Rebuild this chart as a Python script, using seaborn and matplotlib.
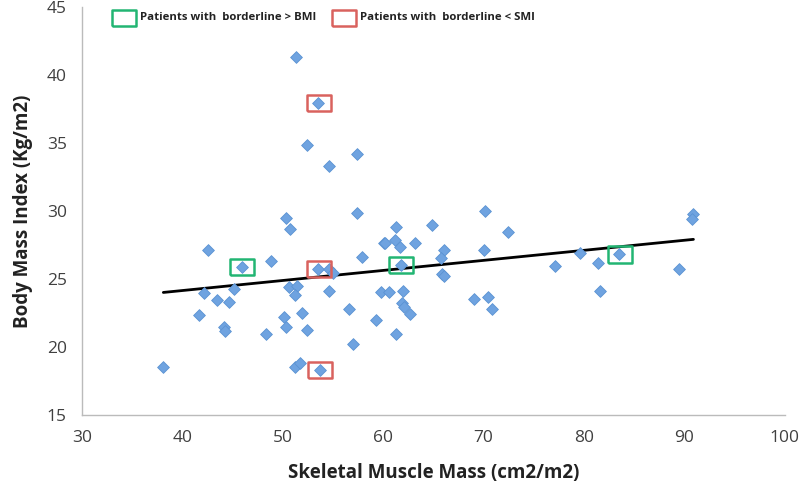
import numpy as np
import pandas as pd
import seaborn as sns
import matplotlib.pyplot as plt

# valores
smm = [51.3, 53.5, 52.4, 57.4, 54.6, 57.4, 50.3, 50.7, 42.5, 60.1,
       48.8, 45.9, 57.9, 53.5, 54.6, 55.0, 45.1, 42.2, 43.4, 44.6,
       50.6, 51.4, 51.2, 54.6, 59.8, 60.6, 41.7, 50.1, 51.9, 56.6,
       59.3, 50.3, 44.1, 44.2, 48.3, 52.4, 57.0, 61.3, 38.1, 51.2,
       51.7, 53.7, 70.1, 64.9, 61.3, 72.4, 60.2, 61.2, 61.7, 63.2,
       66.1, 70.0, 65.8, 61.8, 65.9, 66.1, 77.1, 79.6, 81.4, 83.5,
       89.5, 90.9, 90.8, 81.6, 62.0, 61.9, 62.1, 62.7, 69.0, 70.4,
       70.8]
bmi = [41.35, 37.95, 34.85, 34.2, 33.3, 29.85, 29.45, 28.7, 27.1, 27.65,
       26.35, 25.9, 26.6, 25.75, 25.75, 25.45, 24.3, 23.95, 23.45, 23.3,
       24.4, 24.5, 23.8, 24.1, 24.05, 24.05, 22.35, 22.2, 22.5, 22.8,
       22.0, 21.5, 21.5, 21.2, 20.95, 21.25, 20.25, 20.95, 18.55, 18.55,
       18.85, 18.3, 30.0, 28.95, 28.85, 28.45, 27.65, 27.9, 27.35, 27.65,
       27.1, 27.1, 26.55, 26.05, 25.4, 25.25, 25.95, 26.9, 26.15, 26.85,
       25.75, 29.75, 29.4, 24.1, 24.1, 23.25, 22.95, 22.4, 23.55, 23.7,
       22.8]

# pacientes resaltados
bmi_hi_x = [45.9, 61.8, 83.6]
bmi_hi_y = [25.9, 26.05, 26.8]
smi_lo_x = [53.6, 53.6, 53.7]
smi_lo_y = [37.95, 25.75, 18.3]

df = pd.DataFrame({'smm': smm, 'bmi': bmi})

sns.set_style('white')
plt.rcParams['font.family'] = ['Open Sans', 'DejaVu Sans']

fig = plt.figure(figsize=(8, 4.91), dpi=100)
ax = fig.add_axes([0.1025, 0.1548, 0.8785, 0.831])

sns.scatterplot(data=df, x='smm', y='bmi', marker='D', s=36, color='#6fa3e0',
                edgecolor='#5b93d3', linewidth=0.6, ax=ax, zorder=3)
sns.regplot(data=df, x='smm', y='bmi', scatter=False, ci=None, truncate=True,
            line_kws={'color': 'black', 'lw': 2}, ax=ax)

rect = [(-1.5, -1), (1.5, -1), (1.5, 1), (-1.5, 1), (-1.5, -1)]
ax.scatter(bmi_hi_x, bmi_hi_y, marker=rect, s=300, facecolors='none',
           edgecolors='#22b573', linewidths=1.8, zorder=4)
ax.scatter(smi_lo_x, smi_lo_y, marker=rect, s=300, facecolors='none',
           edgecolors='#d9625e', linewidths=1.8, zorder=4)

ax.set_xlim(30, 100)
ax.set_ylim(15, 45)
ax.set_xticks(range(30, 101, 10))
ax.set_yticks(range(15, 46, 5))
ax.tick_params(axis='both', labelsize=12.5, labelcolor='#404040', length=4,
               width=1, direction='out', color='#bbbbbb', pad=7)
sns.despine(ax=ax)
for sp in ['left', 'bottom']:
    ax.spines[sp].set_color('#bbbbbb')
    ax.spines[sp].set_linewidth(1)

ax.set_xlabel('Skeletal Muscle Mass (cm2/m2)', fontsize=13.5, fontweight='bold',
              color='#222222', labelpad=12)
ax.set_ylabel('Body Mass Index (Kg/m2)', fontsize=13.5, fontweight='bold',
              color='#222222', labelpad=10)

# leyenda manual arriba
ax.scatter([34.2], [44.2], marker=rect, s=300, facecolors='none',
           edgecolors='#22b573', linewidths=1.8, clip_on=False)
ax.text(35.8, 44.2, 'Patients with  borderline > BMI', fontsize=8.2,
        fontweight='bold', va='center', color='#222222')
ax.scatter([56.1], [44.2], marker=rect, s=300, facecolors='none',
           edgecolors='#d9625e', linewidths=1.8, clip_on=False)
ax.text(57.7, 44.2, 'Patients with  borderline < SMI', fontsize=8.2,
        fontweight='bold', va='center', color='#222222')

plt.savefig('out.png', dpi=100)
